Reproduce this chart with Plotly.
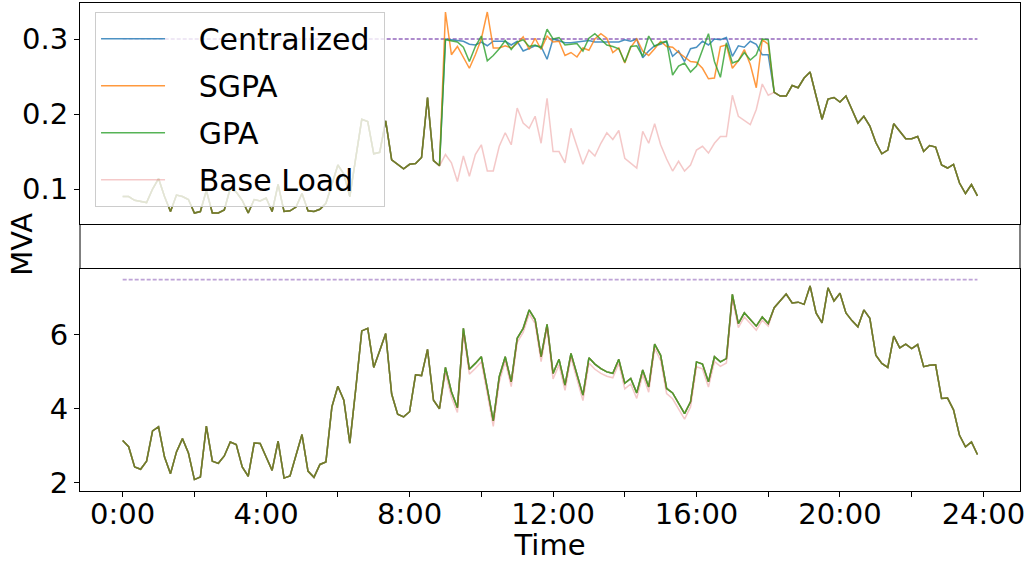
import plotly.graph_objects as go
from plotly.subplots import make_subplots

# ---------------------------------------------------------------------------
# Data: 10-minute samples over one day (144 points)
# ---------------------------------------------------------------------------
STEP_MIN = 10
N_SAMPLES = 144
times = [i * STEP_MIN / 60 for i in range(N_SAMPLES)]  # hours

tick_hours = [0, 2, 4, 6, 8, 10, 12, 14, 16, 18, 20, 22, 24]
tick_labels = ["0:00", "", "4:00", "", "8:00", "", "12:00", "", "16:00", "", "20:00", "", "24:00"]

# Node apparent power (MVA) outside the 9:00-18:00 charging window (all series equal)
node_morning = [
    0.090, 0.090, 0.085, 0.083, 0.082, 0.100, 0.114, 0.090, 0.070, 0.092,
    0.090, 0.086, 0.068, 0.070, 0.098, 0.068, 0.068, 0.072, 0.101, 0.096,
    0.085, 0.068, 0.086, 0.084, 0.088, 0.070, 0.106, 0.070, 0.071, 0.076,
    0.094, 0.071, 0.070, 0.073, 0.081, 0.106, 0.132, 0.120, 0.090, 0.142,
    0.193, 0.190, 0.147, 0.149, 0.191, 0.139, 0.133, 0.127, 0.133, 0.134,
    0.142, 0.222, 0.138, 0.131,
]
node_evening = [
    0.229, 0.224, 0.224, 0.238, 0.235, 0.248, 0.256, 0.224, 0.193, 0.220,
    0.222, 0.216, 0.224, 0.206, 0.188, 0.197, 0.184, 0.162, 0.147, 0.152,
    0.187, 0.177, 0.167, 0.167, 0.170, 0.150, 0.158, 0.156, 0.132, 0.128,
    0.133, 0.108, 0.094, 0.106, 0.091,
]

# Node apparent power during the 9:00-18:00 window, per method
centralized_window = [
    0.300, 0.299, 0.299, 0.297, 0.293, 0.292, 0.296, 0.291, 0.297, 0.297,
    0.297, 0.292, 0.297, 0.284, 0.288, 0.291, 0.290, 0.273, 0.300, 0.297,
    0.295, 0.295, 0.296, 0.297, 0.298, 0.296, 0.296, 0.297, 0.296, 0.296,
    0.299, 0.297, 0.300, 0.275, 0.284, 0.291, 0.293, 0.297, 0.277, 0.284,
    0.270, 0.287, 0.289, 0.297, 0.292, 0.300, 0.299, 0.302, 0.277, 0.291,
    0.289, 0.297, 0.293, 0.279, 0.279,
]
sgpa_window = [
    0.336, 0.279, 0.290, 0.275, 0.261, 0.279, 0.300, 0.336, 0.288, 0.288,
    0.291, 0.288, 0.294, 0.303, 0.286, 0.301, 0.286, 0.304, 0.296, 0.297,
    0.278, 0.282, 0.276, 0.288, 0.285, 0.300, 0.307, 0.301, 0.282, 0.288,
    0.268, 0.289, 0.300, 0.284, 0.278, 0.287, 0.297, 0.290, 0.289, 0.282,
    0.276, 0.270, 0.269, 0.261, 0.247, 0.248, 0.290, 0.292, 0.261, 0.271,
    0.286, 0.266, 0.235, 0.299, 0.293,
]
gpa_window = [
    0.299, 0.298, 0.296, 0.289, 0.270, 0.290, 0.304, 0.271, 0.278, 0.287,
    0.298, 0.286, 0.296, 0.299, 0.290, 0.292, 0.288, 0.313, 0.300, 0.302,
    0.292, 0.293, 0.294, 0.284, 0.301, 0.307, 0.299, 0.292, 0.290, 0.287,
    0.269, 0.290, 0.291, 0.277, 0.304, 0.290, 0.295, 0.297, 0.252, 0.264,
    0.268, 0.256, 0.264, 0.286, 0.307, 0.270, 0.249, 0.295, 0.268, 0.271,
    0.282, 0.272, 0.279, 0.300, 0.299,
]
base_window = [
    0.146, 0.135, 0.110, 0.144, 0.117, 0.146, 0.159, 0.124, 0.124, 0.157,
    0.175, 0.159, 0.208, 0.188, 0.181, 0.197, 0.161, 0.221, 0.150, 0.150,
    0.135, 0.181, 0.157, 0.133, 0.152, 0.144, 0.161, 0.175, 0.166, 0.178,
    0.141, 0.135, 0.128, 0.177, 0.161, 0.187, 0.159, 0.140, 0.124, 0.137,
    0.124, 0.132, 0.152, 0.157, 0.148, 0.161, 0.170, 0.170, 0.225, 0.197,
    0.192, 0.186, 0.206, 0.240, 0.225,
]

# Feeder apparent power (MVA)
feeder_morning = [
    3.14, 2.97, 2.42, 2.36, 2.58, 3.40, 3.51, 2.69, 2.24, 2.83,
    3.19, 2.80, 2.08, 2.15, 3.53, 2.58, 2.52, 2.72, 3.10, 3.03,
    2.42, 2.17, 3.07, 3.06, 2.69, 2.33, 3.12, 2.12, 2.18, 2.74,
    3.30, 2.31, 2.14, 2.49, 2.56, 4.05, 4.61, 4.23, 3.07, 4.55,
    6.11, 6.18, 5.12, 5.57, 6.04, 4.40, 3.85, 3.78, 3.92, 4.92,
    4.90, 5.61, 4.23, 4.00,
]
feeder_window = [
    5.12, 4.46, 4.03, 6.18, 5.07, 5.23, 5.41, 4.55, 3.67, 4.87,
    5.41, 4.73, 5.91, 6.18, 6.68, 6.42, 5.41, 6.29, 4.96, 5.34,
    4.64, 5.50, 4.91, 4.37, 5.38, 5.21, 5.09, 5.00, 4.96, 5.34,
    4.69, 4.82, 4.43, 5.05, 4.59, 5.75, 5.45, 4.55, 4.43, 4.14,
    3.87, 4.19, 5.27, 5.21, 4.73, 5.41, 5.27, 5.36, 7.10, 6.31,
    6.60, 6.42, 6.24, 6.49, 6.31,
]
feeder_base_window = [
    4.98, 4.32, 3.90, 6.04, 4.94, 5.09, 5.27, 4.41, 3.52, 4.73,
    5.29, 4.60, 5.80, 6.07, 6.57, 6.31, 5.28, 6.20, 4.81, 5.19,
    4.50, 5.39, 4.78, 4.22, 5.24, 5.07, 4.96, 4.88, 4.84, 5.23,
    4.54, 4.67, 4.28, 4.93, 4.45, 5.64, 5.31, 4.41, 4.27, 3.98,
    3.72, 4.05, 5.14, 5.08, 4.59, 5.28, 5.15, 5.24, 6.98, 6.20,
    6.49, 6.31, 6.13, 6.40, 6.24,
]
feeder_evening = [
    6.74, 6.93, 7.11, 6.87, 6.89, 6.83, 7.33, 6.60, 6.33, 7.28,
    6.92, 7.13, 6.60, 6.39, 6.22, 6.68, 6.45, 5.45, 5.23, 5.12,
    5.97, 5.65, 5.75, 5.63, 5.74, 5.14, 5.18, 5.19, 4.28, 4.29,
    3.97, 3.28, 2.97, 3.10, 2.76,
]

node_limit = 0.3     # MVA
feeder_limit = 7.5   # MVA

# Full-day series
node_series = {
    "Centralized": node_morning + centralized_window + node_evening,
    "SGPA": node_morning + sgpa_window + node_evening,
    "GPA": node_morning + gpa_window + node_evening,
    "Base Load": node_morning + base_window + node_evening,
}
feeder_controlled = feeder_morning + feeder_window + feeder_evening
feeder_series = {
    "Centralized": feeder_controlled,
    "SGPA": feeder_controlled,
    "GPA": feeder_controlled,
    "Base Load": feeder_morning + feeder_base_window + feeder_evening,
}

styles = {
    "Centralized": dict(color="#1f77b4", opacity=0.8),
    "SGPA": dict(color="#ff7f0e", opacity=0.8),
    "GPA": dict(color="#2ca02c", opacity=0.8),
    "Base Load": dict(color="#d62728", opacity=0.25),
}

# legend labels padded with no-break spaces to widen the gap after the line sample
NBSP = "\u00a0"


def legend_label(name):
    return NBSP * 3 + name + NBSP


# ---------------------------------------------------------------------------
# Figure
# ---------------------------------------------------------------------------
FONT = "DejaVu Sans"
fig = make_subplots(rows=2, cols=1, shared_xaxes=True, vertical_spacing=0.0)

# capacity limits (dashed)
fig.add_trace(go.Scatter(x=[times[0], times[-1]], y=[node_limit, node_limit], mode="lines",
                         line=dict(color="#9467bd", width=1.3, dash="4px,2px"),
                         showlegend=False, hoverinfo="skip"), row=1, col=1)
fig.add_trace(go.Scatter(x=[times[0], times[-1]], y=[feeder_limit, feeder_limit], mode="lines",
                         line=dict(color="#9467bd", width=1.8, dash="4px,2px"), opacity=0.6,
                         showlegend=False, hoverinfo="skip"), row=2, col=1)

for name, vals in node_series.items():
    st = styles[name]
    fig.add_trace(go.Scatter(x=times, y=vals, mode="lines", name=legend_label(name),
                             legendgroup=name,
                             line=dict(color=st["color"], width=1.5), opacity=st["opacity"]),
                  row=1, col=1)
for name, vals in feeder_series.items():
    st = styles[name]
    fig.add_trace(go.Scatter(x=times, y=vals, mode="lines", name=legend_label(name),
                             legendgroup=name, showlegend=False,
                             line=dict(color=st["color"], width=1.5), opacity=st["opacity"]),
                  row=2, col=1)

top_dom = [0.547, 1.0]
bot_dom = [0.0, 0.455]

axis_common = dict(showgrid=False, zeroline=False, showline=True, linecolor="black",
                   linewidth=1, mirror=True, ticks="outside", ticklen=5, tickwidth=1,
                   tickcolor="black", tickfont=dict(family=FONT, size=29, color="black"))

fig.update_xaxes(range=[-1.19, 25.02], tickvals=tick_hours, ticktext=tick_labels, **axis_common)
fig.update_xaxes(showticklabels=False, ticks="", row=1, col=1)
fig.update_xaxes(title=dict(text="Time", font=dict(family=FONT, size=29, color="black"), standoff=0),
                 ticklabelstandoff=-8, row=2, col=1)
fig.update_yaxes(**axis_common)
fig.update_yaxes(range=[0.0533, 0.348], tickvals=[0.1, 0.2, 0.3], ticktext=["0.1", "0.2", "0.3"],
                 domain=top_dom, row=1, col=1)
fig.update_yaxes(range=[1.77, 7.79], tickvals=[2, 4, 6], domain=bot_dom, row=2, col=1)

# frame sides across the gap between the two panels
for xp in (0, 1):
    fig.add_shape(type="line", xref="paper", yref="paper", x0=xp, x1=xp,
                  y0=bot_dom[1], y1=top_dom[0], line=dict(color="black", width=1))

fig.add_annotation(text="MVA", xref="paper", yref="paper", x=-0.062, y=0.506,
                   textangle=-90, showarrow=False, xanchor="center", yanchor="middle",
                   font=dict(family=FONT, size=29, color="black"))

fig.update_layout(
    width=1031, height=562,
    margin=dict(l=80, r=11, t=3, b=71),
    paper_bgcolor="white", plot_bgcolor="white",
    font=dict(family=FONT, color="black"),
    legend=dict(x=0.016, y=0.982, xanchor="left", yanchor="top",
                bgcolor="rgba(255,255,255,0.8)", bordercolor="#cccccc", borderwidth=1,
                font=dict(family=FONT, size=30, color="black"),
                itemwidth=64, tracegroupgap=5),
)

fig.write_html("out.html")
